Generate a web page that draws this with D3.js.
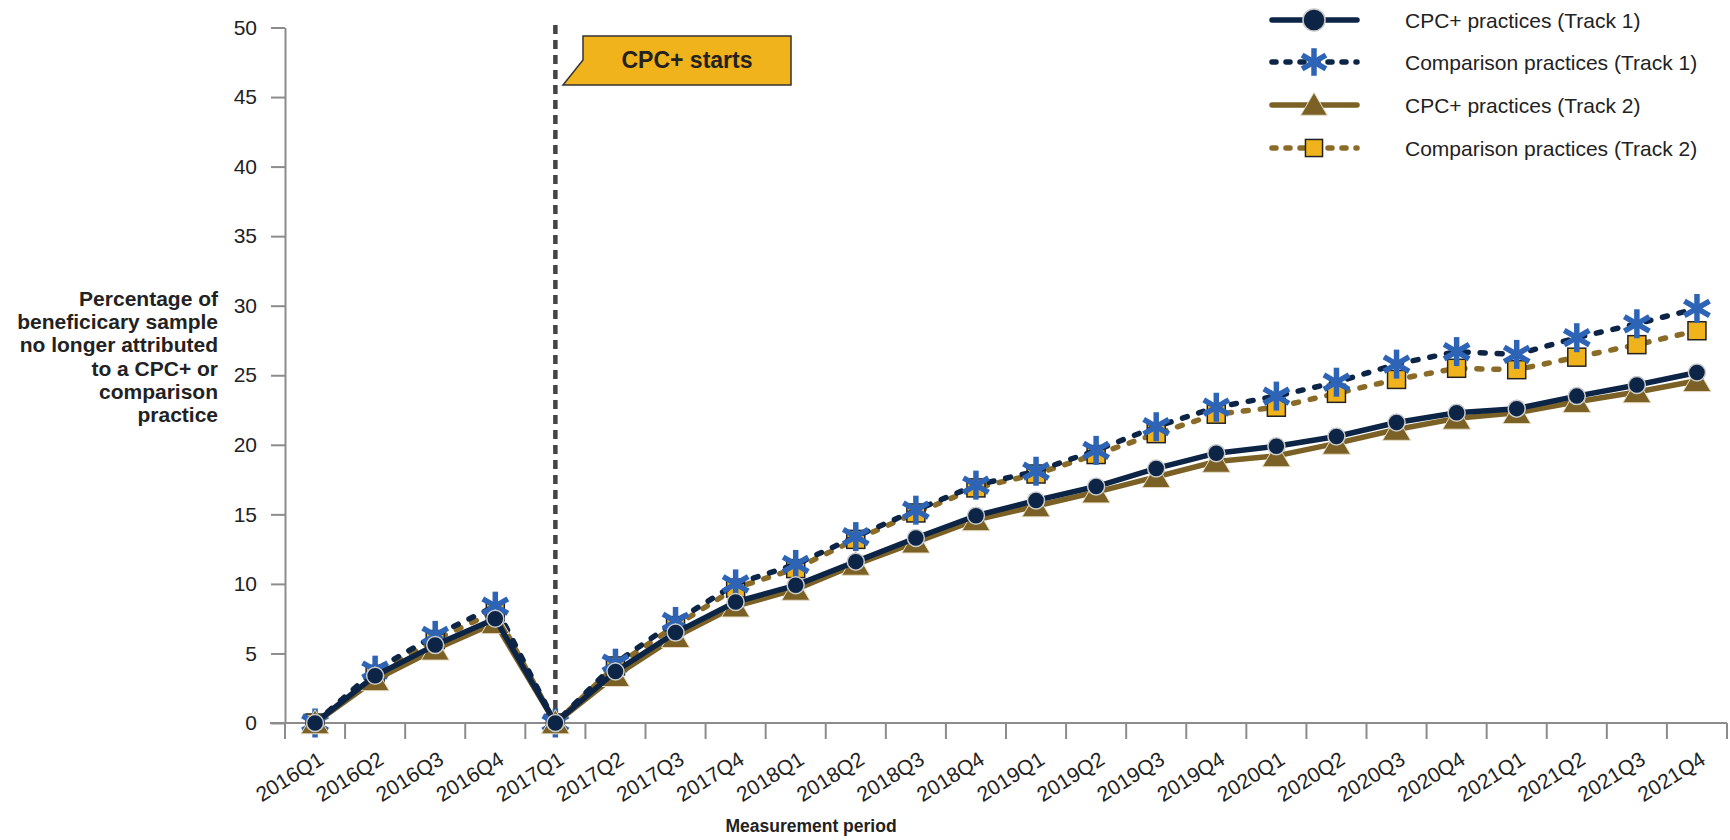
<!DOCTYPE html>
<meta charset="utf-8">
<style>
body { margin: 0; background: #fff; }
text { font-family: "Liberation Sans", Arial, sans-serif; fill: #222; }
.axis path, .axis line { stroke: #8c8c8c; stroke-width: 2px; }
.axis text { font-size: 21px; fill: #222; }
</style>
<svg width="1730" height="840"></svg>
<script src="https://d3js.org/d3.v7.min.js"></script>
<script>

// quarters on the x axis
var periods = ["2016Q1","2016Q2","2016Q3","2016Q4","2017Q1","2017Q2","2017Q3","2017Q4",
  "2018Q1","2018Q2","2018Q3","2018Q4","2019Q1","2019Q2","2019Q3","2019Q4",
  "2020Q1","2020Q2","2020Q3","2020Q4","2021Q1","2021Q2","2021Q3","2021Q4"];

var cpcTrack1  = [0, 3.4, 5.6, 7.5, 0, 3.7, 6.5, 8.7, 9.9, 11.6, 13.3, 14.9, 16.0, 17.0, 18.3, 19.4, 19.9, 20.6, 21.6, 22.3, 22.6, 23.5, 24.3, 25.2];
var compTrack1 = [0, 3.8, 6.3, 8.4, 0, 4.3, 7.3, 10.0, 11.4, 13.4, 15.3, 17.1, 18.1, 19.6, 21.3, 22.7, 23.5, 24.5, 25.8, 26.7, 26.5, 27.7, 28.7, 29.8];
var cpcTrack2  = [0, 3.1, 5.3, 7.2, 0, 3.4, 6.2, 8.4, 9.6, 11.4, 13.0, 14.6, 15.6, 16.6, 17.7, 18.8, 19.2, 20.1, 21.1, 21.9, 22.3, 23.1, 23.8, 24.6];
var compTrack2 = [0, 3.5, 6.0, 8.0, 0, 4.1, 7.0, 9.7, 11.1, 13.2, 15.1, 16.9, 17.9, 19.3, 20.8, 22.2, 22.7, 23.7, 24.7, 25.5, 25.4, 26.3, 27.2, 28.2];

var yTicks = [0, 5, 10, 15, 20, 25, 30, 35, 40, 45, 50];
var yTitle = ["Percentage of", "beneficicary sample", "no longer attributed", "to a CPC+ or", "comparison", "practice"];

var svg = d3.select("svg");

var x = d3.scaleBand().domain(periods).range([285, 1727]);
var y = d3.scaleLinear().domain([0, 50]).range([723, 27.5]);

var navy = "#0c2546", brown = "#7b6126", blue = "#2e64b6", gold = "#f1b31c";

var series = [
  {name: "Comparison practices (Track 2)", values: compTrack2, color: "#8a6c28", dash: "5,12", marker: "square"},
  {name: "Comparison practices (Track 1)", values: compTrack1, color: navy, dash: "5,12", marker: "star"},
  {name: "CPC+ practices (Track 2)", values: cpcTrack2, color: brown, dash: null, marker: "triangle"},
  {name: "CPC+ practices (Track 1)", values: cpcTrack1, color: navy, dash: null, marker: "circle"}
];

// axes
svg.append("g")
    .attr("class", "axis")
    .attr("transform", "translate(285,0)")
    .call(d3.axisLeft(y).tickValues(yTicks).tickSize(14).tickSizeOuter(0).tickPadding(14));

var xAxis = svg.append("g")
    .attr("class", "axis")
    .attr("transform", "translate(0,723)")
    .call(d3.axisBottom(x).tickSize(0).tickSizeOuter(0));
xAxis.select(".domain").remove();
xAxis.selectAll(".tick text")
    .attr("text-anchor", "end")
    .attr("dy", null)
    .attr("y", null)
    .attr("transform", "translate(10,40) rotate(-32)");

svg.append("line")
    .attr("x1", 270).attr("x2", 1727)
    .attr("y1", 723).attr("y2", 723)
    .attr("stroke", "#8c8c8c").attr("stroke-width", 2);

var bounds = periods.map(function(d) { return x(d); }).concat([x.range()[1]]);
svg.append("g").selectAll("line")
    .data(bounds)
    .enter().append("line")
      .attr("x1", function(d) { return d; })
      .attr("x2", function(d) { return d; })
      .attr("y1", 723).attr("y2", 739)
      .attr("stroke", "#8c8c8c").attr("stroke-width", 2);

// axis titles
svg.append("text")
    .attr("x", 218)
    .attr("text-anchor", "end")
    .style("font-weight", "bold")
    .style("font-size", "21px")
  .selectAll("tspan")
  .data(yTitle)
  .enter().append("tspan")
    .attr("x", 218)
    .attr("y", function(d, i) { return 306 + i * 23.2; })
    .text(function(d) { return d; });

svg.append("text")
    .attr("x", 811).attr("y", 832)
    .attr("text-anchor", "middle")
    .style("font-weight", "bold")
    .style("font-size", "17.5px")
    .text("Measurement period");

// CPC+ start marker
var startX = x("2017Q1") + x.bandwidth() / 2;
svg.append("line")
    .attr("x1", startX).attr("x2", startX)
    .attr("y1", 25).attr("y2", 723)
    .attr("stroke", "#444").attr("stroke-width", 4.5)
    .attr("stroke-dasharray", "9,6");

svg.append("path")
    .attr("d", "M583,36 L791,36 L791,85 L563,85 L583,60 Z")
    .attr("fill", gold).attr("stroke", "#333").attr("stroke-width", 1.5);
svg.append("text")
    .attr("x", 687).attr("y", 68)
    .attr("text-anchor", "middle")
    .style("font-weight", "bold")
    .style("font-size", "23px")
    .text("CPC+ starts");

// markers
function drawMarker(g, type, s) {
  if (type === "circle") {
    g.append("circle").attr("r", 8.5 * s)
      .attr("fill", navy).attr("stroke", "#c9c9c9").attr("stroke-width", 1.5);
  } else if (type === "triangle") {
    var w = 14 * s, h = 24 * s;
    g.append("path")
      .attr("d", "M0," + (-h * 0.55) + " L" + w + "," + (h * 0.45) + " L" + (-w) + "," + (h * 0.45) + " Z")
      .attr("fill", brown).attr("stroke", "#e6dcc2").attr("stroke-width", 1);
  } else if (type === "square") {
    var a = 9 * s;
    g.append("rect").attr("x", -a).attr("y", -a).attr("width", 2 * a).attr("height", 2 * a)
      .attr("fill", gold).attr("stroke", "#222").attr("stroke-width", 1.5);
  } else {
    var r = 14.5 * s;
    [90, 30, -30].forEach(function(ang) {
      var rad = ang * Math.PI / 180;
      g.append("line")
        .attr("x1", -r * Math.cos(rad)).attr("y1", -r * Math.sin(rad))
        .attr("x2", r * Math.cos(rad)).attr("y2", r * Math.sin(rad))
        .attr("stroke", blue).attr("stroke-width", 5.5);
    });
  }
}

var line = d3.line()
    .x(function(d, i) { return x(periods[i]) + x.bandwidth() / 2; })
    .y(function(d) { return y(d); });

series.forEach(function(s) {
  var g = svg.append("g");
  g.append("path")
      .datum(s.values)
      .attr("d", line)
      .attr("fill", "none")
      .attr("stroke", s.color)
      .attr("stroke-width", 5.5)
      .attr("stroke-linecap", "round")
      .attr("stroke-linejoin", "round")
      .attr("stroke-dasharray", s.dash);
  g.selectAll("g.pt")
      .data(s.values)
      .enter().append("g")
      .attr("class", "pt")
      .attr("transform", function(d, i) {
        return "translate(" + (x(periods[i]) + x.bandwidth() / 2) + "," + y(d) + ")";
      })
      .each(function() { drawMarker(d3.select(this), s.marker, 1); });
});

// legend
var legendOrder = [series[3], series[1], series[2], series[0]];
var legend = svg.append("g").selectAll("g")
    .data(legendOrder)
    .enter().append("g")
    .attr("transform", function(d, i) { return "translate(0," + [20, 62, 105, 148][i] + ")"; });

legend.append("line")
    .attr("x1", 1272).attr("x2", 1357)
    .attr("stroke", function(d) { return d.color; })
    .attr("stroke-width", 5.5)
    .attr("stroke-linecap", "round")
    .attr("stroke-dasharray", function(d) { return d.dash ? "4,10" : null; });
legend.append("g")
    .attr("transform", "translate(1314,0)")
    .each(function(d) { drawMarker(d3.select(this), d.marker, d.marker === "circle" ? 1.3 : 0.95); });
legend.append("text")
    .attr("x", 1405).attr("y", 7.5)
    .style("font-size", "21px")
    .text(function(d) { return d.name; });

</script>
